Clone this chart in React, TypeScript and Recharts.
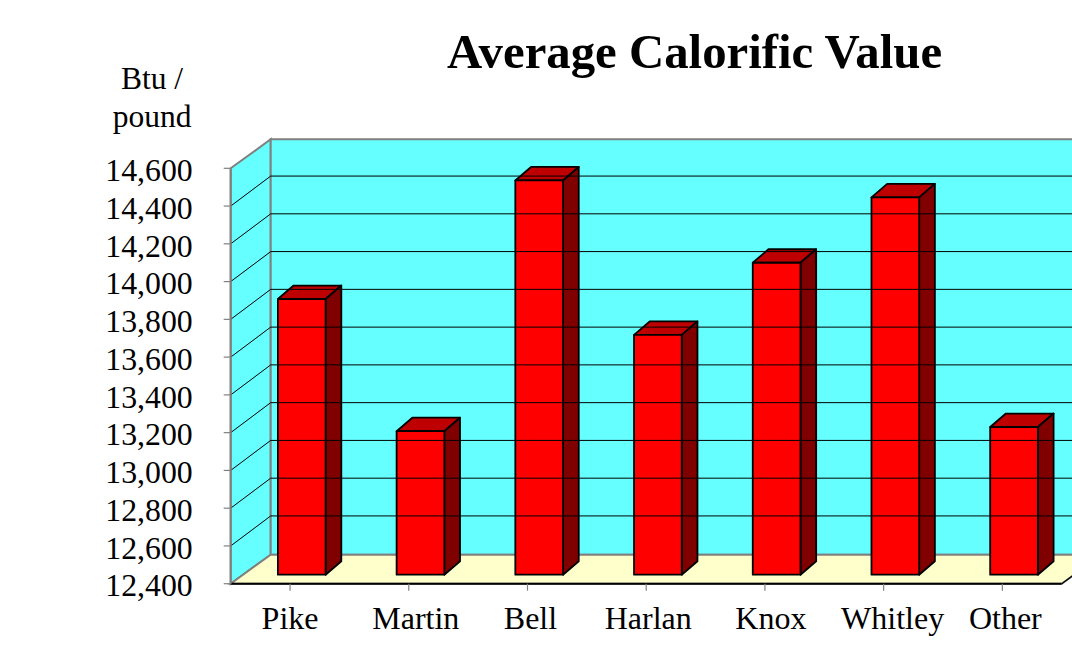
import React from "react";
import { ComposedChart, Bar, XAxis, YAxis, ReferenceArea, ReferenceLine } from "recharts";

const categories = ["Pike", "Martin", "Bell", "Harlan", "Knox", "Whitley", "Other"];
const calorific = [13860, 13160, 14488, 13670, 14052, 14398, 13182];
const yTicks = [12400, 12600, 12800, 13000, 13200, 13400, 13600, 13800, 14000, 14200, 14400, 14600];
const title = "Average Calorific Value";
const unitLines = ["Btu /", "pound"];

const rows = categories.map((name, i) => ({ name, value: calorific[i] }));

const serif = '"Liberation Serif", "Times New Roman", serif';
const DX = 40;
const DY = -29;
const labelNudge = [0, 7, 3, 2, 6, 9, 3];

const Walls = (p: any) => {
  const { x, y, width, height } = p;
  const b = y + height;
  const r = x + width;
  return (
    <g>
      <polygon points={`${x},${y} ${x + DX},${y + DY} ${x + DX},${b + DY} ${x},${b}`} fill="#66ffff" stroke="#808080" strokeWidth={2} />
      <polygon points={`${x + DX},${y + DY} ${r + DX},${y + DY} ${r + DX},${b + DY} ${x + DX},${b + DY}`} fill="#66ffff" stroke="#808080" strokeWidth={2} />
      <polygon points={`${x},${b} ${x + DX},${b + DY} ${r + DX},${b + DY} ${r},${b}`} fill="#ffffcc" stroke="#808080" strokeWidth={2} />
      <line x1={r} y1={b} x2={r + DX} y2={b + DY} stroke="#000" strokeWidth={1.2} />
    </g>
  );
};

const GridLine = (p: any) => {
  const { x1, y1, x2 } = p;
  return (
    <g>
      <line x1={x1} y1={y1} x2={x1 + DX} y2={y1 + DY - 1} stroke="#000" strokeWidth={1} />
      <line x1={x1 + DX} y1={y1 + DY - 1} x2={x2 + DX} y2={y1 + DY - 1} stroke="#000" strokeWidth={1} />
    </g>
  );
};

const Bar3D = (p: any) => {
  const { x, y, width, height } = p;
  const ox = 11.2;
  const oy = -9;
  const dx = 15.7;
  const dy = -13.5;
  const l = x + ox;
  const r = l + width;
  const t = y + oy;
  const b = y + height + oy;
  const s = { stroke: "#000", strokeWidth: 1.8, strokeLinejoin: "round" as const };
  return (
    <g>
      <polygon points={`${l},${t} ${l + dx},${t + dy} ${r + dx},${t + dy} ${r},${t}`} fill="#bf0000" {...s} />
      <polygon points={`${r},${t} ${r + dx},${t + dy} ${r + dx},${b + dy} ${r},${b}`} fill="#800000" {...s} />
      <rect x={l} y={t} width={width} height={b - t} fill="#ff0000" {...s} />
    </g>
  );
};

const XTick = (p: any) => {
  const { x, payload, index } = p;
  return (
    <text x={x + labelNudge[index]} y={629} textAnchor="middle" fontFamily={serif} fontSize={32} fill="#000">
      {payload.value}
    </text>
  );
};

export default function App() {
  return (
    <div style={{ position: "absolute", left: 0, top: 0, width: 1072, height: 647, overflow: "hidden", background: "#fff" }}>
      <ComposedChart
        width={1110}
        height={647}
        data={rows}
        margin={{ top: 168.3, right: 48.3, bottom: 0, left: 0 }}
        barCategoryGap={0}
      >
        <XAxis
          dataKey="name"
          height={63.3}
          interval={0}
          tick={<XTick />}
          axisLine={{ stroke: "#000", strokeWidth: 2 }}
          tickLine={{ stroke: "#808080", strokeWidth: 1.2 }}
          tickSize={7}
        />
        <YAxis
          width={230.7}
          domain={[12400, 14600]}
          ticks={yTicks}
          interval={0}
          tickFormatter={(v: number) => v.toLocaleString("en-US")}
          tick={{ fontFamily: serif, fontSize: 31.8, fill: "#000", dy: 1.5 }}
          axisLine={{ stroke: "#808080", strokeWidth: 2 }}
          tickLine={{ stroke: "#808080", strokeWidth: 1.2 }}
          tickSize={7}
          tickMargin={31}
        />
        <ReferenceArea y1={12400} y2={14600} shape={<Walls />} ifOverflow="visible" />
        {yTicks.slice(1, -1).map((t) => (
          <ReferenceLine key={t} y={t} shape={<GridLine />} ifOverflow="visible" />
        ))}
        <Bar dataKey="value" barSize={47.7} shape={<Bar3D />} isAnimationActive={false} />
      </ComposedChart>
      <div style={{ position: "absolute", left: 294.5, width: 800, top: 22, lineHeight: "60px", textAlign: "center", fontFamily: serif, fontWeight: "bold", fontSize: 48.8, color: "#000", whiteSpace: "nowrap" }}>
        {title}
      </div>
      {unitLines.map((s, i) => (
        <div key={s} style={{ position: "absolute", left: 92, width: 120, top: 60 + i * 38, lineHeight: "38px", textAlign: "center", fontFamily: serif, fontSize: 31.5, color: "#000" }}>
          {s}
        </div>
      ))}
    </div>
  );
}
